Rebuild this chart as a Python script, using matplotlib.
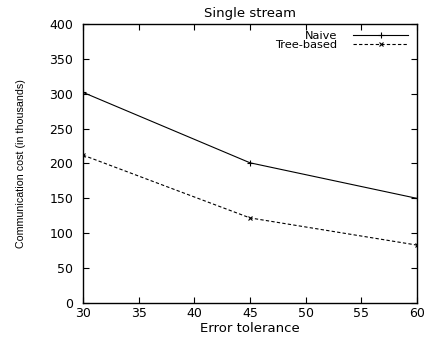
import matplotlib
matplotlib.use("Agg")
import matplotlib.pyplot as plt

tolerance = [30, 45, 60]
naive = [302, 201, 150]
tree_based = [212, 122, 83]

plt.rcParams['font.family'] = ['DejaVu Sans']

fig = plt.figure(figsize=(4.33, 3.37), dpi=100)
ax = fig.add_axes([83 / 433, 1 - 303 / 337, (417 - 83) / 433, (303 - 24) / 337])

ax.plot(tolerance, naive, color='black', lw=0.8, marker='+', ms=4, mew=0.8, label='Naive')
ax.plot(tolerance, tree_based, color='black', lw=0.8, ls=(0, (3, 2)), marker='x', ms=3, mew=0.8,
        label='Tree-based')

ax.set_xlim(30, 60)
ax.set_ylim(0, 400)
ax.set_xticks(range(30, 61, 5))
ax.set_yticks(range(0, 401, 50))
ax.tick_params(direction='in', top=True, right=True, labelsize=9, length=4, width=0.8)
ax.tick_params(axis='y', pad=7)
ax.tick_params(axis='x', pad=3)
for s in ax.spines.values():
    s.set_linewidth(1.0)

ax.set_title('Single stream', fontsize=9.5, pad=5)
ax.set_xlabel('Error tolerance', fontsize=9.5, labelpad=1)
ax.set_ylabel('Communication cost (in thousands)', fontsize=7.7,
              family=['Liberation Sans', 'DejaVu Sans'], labelpad=17)

ax.legend(loc='upper right', bbox_to_anchor=(0.973, 0.975), frameon=False, markerfirst=False,
          fontsize=8.2, handlelength=4.8, borderaxespad=0, borderpad=0,
          labelspacing=-0.1, handletextpad=1.4)

fig.savefig('out.png', dpi=100)
